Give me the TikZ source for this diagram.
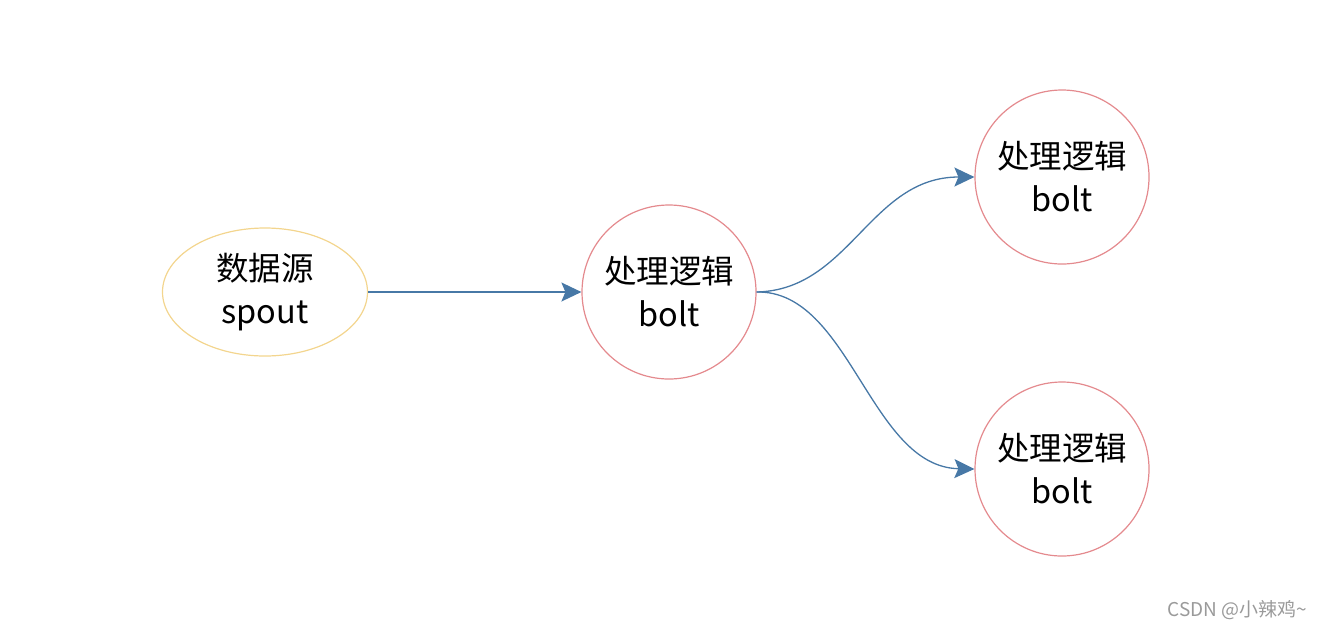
\documentclass[tikz,border=0pt]{standalone}
\usepackage{fontspec}
\setmainfont{Noto Sans CJK SC}
\usetikzlibrary{shapes.geometric,arrows.meta}
\definecolor{ylw}{HTML}{F3D58E}
\definecolor{rd}{HTML}{E48A8E}
\definecolor{bl}{HTML}{4778A6}
\definecolor{wm}{HTML}{9A9A9A}
\tikzset{
  lbl/.style={align=center,font=\fontsize{32.5}{43}\selectfont},
  srcbox/.style={ellipse,draw=ylw,line width=1.2pt,minimum width=205pt,minimum height=128pt,inner sep=0pt,lbl},
  boltbox/.style={circle,draw=rd,line width=1.2pt,minimum size=174pt,inner sep=0pt,lbl},
  conn/.style={draw=bl,line width=1.3pt,-{Stealth[length=20pt,width=19pt,inset=4pt]}}
}
\begin{document}
\begin{tikzpicture}[x=1pt,y=-1pt]
\useasboundingbox (0,0) rectangle (1324,630);
\node[srcbox] (src) at (265,292) {数据源\\spout};
\node[boltbox] (b1) at (669,292) {处理逻辑\\bolt};
\node[boltbox] (b2) at (1062,177) {处理逻辑\\bolt};
\node[boltbox] (b3) at (1062,469) {处理逻辑\\bolt};
\draw[conn] (src.east) -- (b1.west);
\draw[conn] (b1.east) .. controls (850,290) and (870,177) .. (b2.west);
\draw[conn] (b1.east) .. controls (850,290) and (870,467) .. (b3.west);
\node[text=wm,font=\fontsize{19}{21}\selectfont,anchor=east] (wmk) at (1311,610) {CSDN @小辣鸡\textasciitilde};
\end{tikzpicture}
\end{document}
